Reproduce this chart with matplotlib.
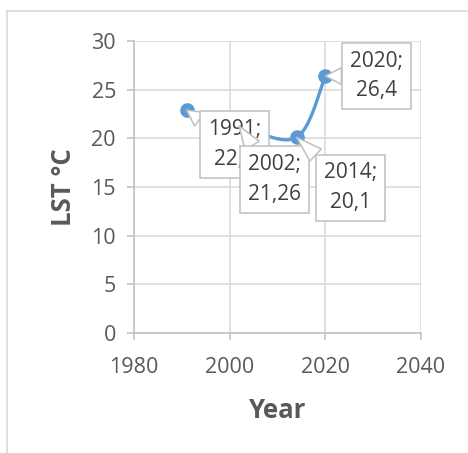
import numpy as np
import matplotlib
matplotlib.use("Agg")
import matplotlib.pyplot as plt
from matplotlib.lines import Line2D

years = [1991, 2002, 2014, 2020]
lst = [22.9, 21.26, 20.1, 26.4]
labels = ["1991;\n22,9", "2002;\n21,26", "2014;\n20,1", "2020;\n26,4"]
xticks = [1980, 2000, 2020, 2040]
yticks = [0, 5, 10, 15, 20, 25, 30]

plt.rcParams['font.family'] = ['Open Sans', 'DejaVu Sans']

fig = plt.figure(figsize=(4.68, 4.53), dpi=100)
ax = fig.add_axes([134/468, 1-333/453, (421-134)/468, (333-41)/453])
ax.set_xlim(1980, 2040)
ax.set_ylim(0, 30)

# Excel-like smoothed line (Catmull-Rom Bezier) in normalized coordinates
xn = (np.array(years, float) - 1980) / 60.0
yn = np.array(lst, float) / 30.0
P = np.column_stack([xn, yn])
n = len(P)
curve = []
for i in range(n - 1):
    p0 = P[i - 1] if i > 0 else P[i]
    p1 = P[i]
    p2 = P[i + 1]
    p3 = P[i + 2] if i + 2 < n else P[i + 1]
    c1 = p1 + (p2 - p0) / 6.0
    c2 = p2 - (p3 - p1) / 6.0
    t = np.linspace(0, 1, 60)[:, None]
    seg = (1-t)**3*p1 + 3*(1-t)**2*t*c1 + 3*(1-t)*t**2*c2 + t**3*p2
    curve.append(seg)
curve = np.vstack(curve)
cx = curve[:, 0] * 60 + 1980
cy = curve[:, 1] * 30

blue = '#5B9BD5'
ax.plot(cx, cy, color=blue, lw=2.4, zorder=3, solid_capstyle='round')
ax.plot(years, lst, 'o', color=blue, ms=9.5, zorder=4)

ax.set_xticks(xticks)
ax.set_yticks(yticks)
ax.grid(True, color='#d9d9d9', lw=1.1)
ax.set_axisbelow(True)
for s in ['top', 'right']:
    ax.spines[s].set_visible(False)
for s in ['left', 'bottom']:
    ax.spines[s].set_color('#bfbfbf')
    ax.spines[s].set_linewidth(1.1)
ax.tick_params(axis='both', colors='#bfbfbf', labelcolor='#595959',
               labelsize=15.5, length=5, width=1.1)
ax.tick_params(axis='y', pad=8)
ax.tick_params(axis='x', pad=12)

ax.set_xlabel('Year', fontsize=18.5, fontweight='bold', color='#595959', labelpad=14)
ax.set_ylabel('LST °C', fontsize=18.5, fontweight='bold', color='#595959', labelpad=10)

offsets = [(48, -34.5), (35, -53.5), (54, -50.5), (51, 0)]
for i, (x, y, lab, off) in enumerate(zip(years, lst, labels, offsets)):
    ax.annotate(lab, xy=(x, y), xytext=off, textcoords='offset pixels',
                ha='center', va='center', fontsize=15, color='#404040',
                linespacing=1.55,
                bbox=dict(boxstyle='square,pad=0.38', fc='white', ec='#bfbfbf', lw=1.1),
                arrowprops=dict(arrowstyle='wedge,tail_width=0.8,shrink_factor=0.5',
                                fc='white', ec='#bfbfbf', lw=1.1, shrinkB=0, shrinkA=0),
                zorder=5 + i, annotation_clip=False)

# chart outer border
fig.add_artist(Line2D([7/468, 7/468], [0, 1-11/453], transform=fig.transFigure,
                      color='#d9d9d9', lw=1.2))
fig.add_artist(Line2D([7/468, 1], [1-11/453, 1-11/453], transform=fig.transFigure,
                      color='#d9d9d9', lw=1.2))

fig.savefig('out.png', dpi=100)
